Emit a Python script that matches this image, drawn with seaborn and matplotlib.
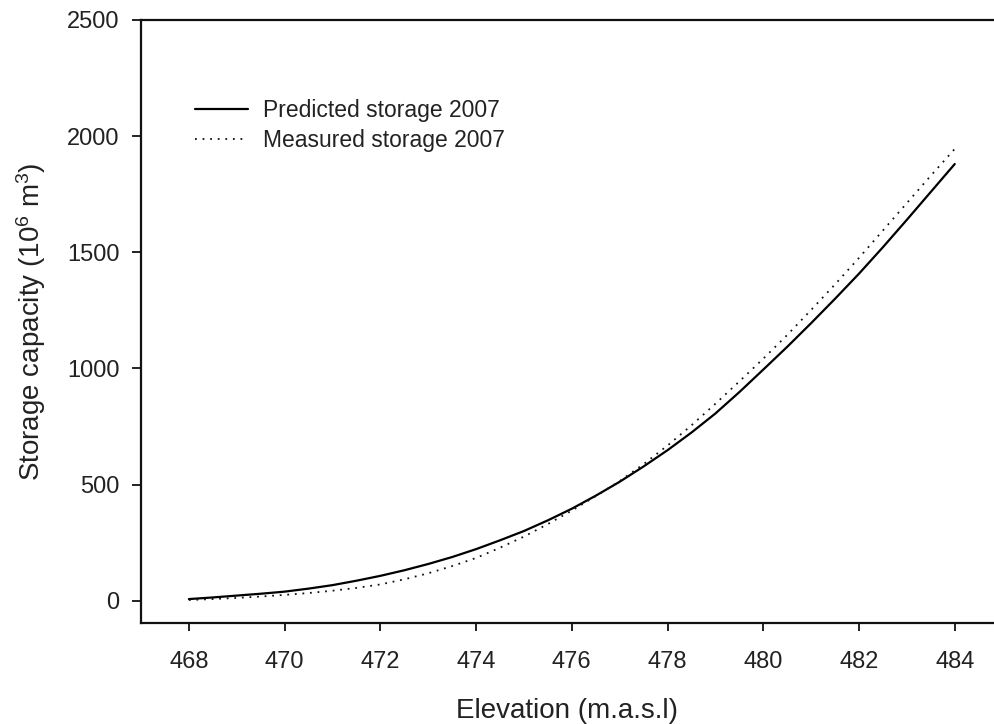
import numpy as np
import pandas as pd
import matplotlib
matplotlib.use("Agg")
import matplotlib.pyplot as plt
import seaborn as sns

# Data (half-metre steps)
elevation = [468, 468.5, 469, 469.5, 470, 470.5, 471, 471.5, 472, 472.5, 473, 473.5,
             474, 474.5, 475, 475.5, 476, 476.5, 477, 477.5, 478, 478.5, 479, 479.5,
             480, 480.5, 481, 481.5, 482, 482.5, 483, 483.5, 484]
predicted = [7, 14, 22, 30, 39, 52, 67, 86, 107, 131, 158, 188,
             222, 260, 300, 346, 396, 452, 512, 578, 648, 724, 806, 898,
             995, 1093, 1195, 1300, 1408, 1522, 1640, 1760, 1880]
measured = [3, 7, 12, 18, 25, 33, 43, 55, 70, 92, 118, 149,
            184, 228, 276, 330, 388, 450, 515, 588, 668, 755, 848, 944,
            1042, 1144, 1252, 1362, 1476, 1594, 1712, 1830, 1945]
series_labels = ["Predicted storage 2007", "Measured storage 2007"]
x_ticks = [468, 470, 472, 474, 476, 478, 480, 482, 484]
y_ticks = [0, 500, 1000, 1500, 2000, 2500]

sns.set_style("ticks")
plt.rcParams["font.family"] = ["Liberation Sans", "DejaVu Sans"]
plt.rcParams["mathtext.fontset"] = "custom"
plt.rcParams["mathtext.rm"] = "Liberation Sans"
plt.rcParams["mathtext.it"] = "Liberation Sans:italic"
plt.rcParams["mathtext.bf"] = "Liberation Sans:bold"

text_color = "#222222"

df = pd.DataFrame({"Elevation": elevation, "Predicted": predicted, "Measured": measured})

fig = plt.figure(figsize=(9.94, 7.24), dpi=100)
ax = fig.add_axes([141 / 994, 1 - 623 / 724, 1 - 141 / 994, (623 - 20) / 724])

sns.lineplot(data=df, x="Elevation", y="Predicted", ax=ax, color="black",
             linewidth=1.6, label=series_labels[0])
sns.lineplot(data=df, x="Elevation", y="Measured", ax=ax, color="#111111",
             linewidth=1.3, linestyle=(0, (1, 3.2)), label=series_labels[1])

ax.set_xlim(467.0, 484.82)
ax.set_ylim(-96, 2500)
ax.set_xticks(x_ticks)
ax.set_yticks(y_ticks)

for side in ["left", "top", "bottom"]:
    ax.spines[side].set_visible(True)
    ax.spines[side].set_color("#111111")
    ax.spines[side].set_linewidth(1.6)
ax.spines["right"].set_visible(False)

ax.tick_params(axis="x", direction="out", length=6, width=1.3, pad=14,
               labelsize=17, colors="#111111", labelcolor=text_color, top=False)
ax.tick_params(axis="y", direction="out", length=6.5, width=1.3, pad=9,
               labelsize=17, colors="#111111", labelcolor=text_color, right=False)

ax.set_xlabel("Elevation (m.a.s.l)", fontsize=20, color=text_color, labelpad=18)
ax.set_ylabel("Storage capacity (10$^{6}$ m$^{3}$)", fontsize=20, color=text_color, labelpad=14)

leg = ax.legend(loc="center left", bbox_to_anchor=(0.0633, 0.825), frameon=False,
                fontsize=16.5, handlelength=2.3, handletextpad=0.65, borderpad=0,
                borderaxespad=0, labelspacing=0.3)
for t in leg.get_texts():
    t.set_color(text_color)

fig.savefig("out.png", dpi=100, facecolor="white")
